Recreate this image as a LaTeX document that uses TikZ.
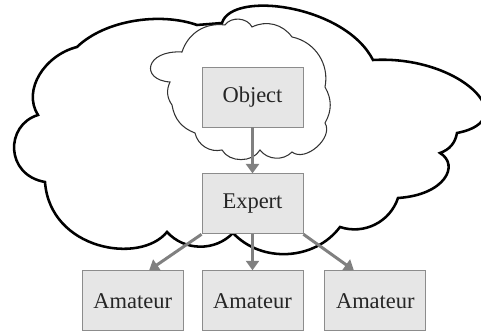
\documentclass[tikz,border=0pt]{standalone}
\usepackage{fontspec}
\setmainfont{Liberation Serif}
\usetikzlibrary{positioning}
\usetikzlibrary{arrows.meta}
\definecolor{boxgray}{HTML}{E6E6E6}
\definecolor{linegray}{HTML}{808080}
\tikzset{
    boxn/.style = {rectangle, draw=black!45, line width=0.5pt, fill=boxgray, minimum width=2.02cm, minimum height=1.2cm, inner sep=0pt, align=center, font=\fontsize{12.8}{15}\selectfont, text=black!85},
    edgea/.style = {-{Triangle[width=0.26cm,length=0.19cm]}, line width=1.7pt, linegray},
    cloudb/.style = {line width=1.45pt, black}, % outer
    clouds/.style = {line width=0.6pt, black!80} % inner
}

\begin{document}
\begin{tikzpicture}[x=0.02cm, y=0.02cm]
  \useasboundingbox (0,0) rectangle (481,331);

  % outer cloud
  \draw[cloudb] (38,216) .. controls (22,241) and (45,276) .. (77,284)
    .. controls (105,311) and (160,319) .. (197,306) -- (222,308)
    .. controls (232,341) and (345,326) .. (373,271)
    .. controls (460,276) and (525,211) .. (457,198)
    to[bend left=30] (440,178)
    .. controls (460,166) and (445,136) .. (398,133)
    to[bend left=45] (340,104)
    to[bend left=50] (233,98)
    to[bend left=47] (167,99)
    .. controls (140,66) and (50,81) .. (45,149)
    .. controls (5,156) and (5,206) .. cycle;

  % inner cloud
  \draw[clouds] (225,306) to[bend left=60] (252,304)
    to[bend left=40] (292,294)
    to[bend left=45] (325,244)
    to[bend left=30] (325,208)
    to[bend left=80] (292,179)
    to[bend left=50] (260,181)
    to[bend left=60] (222,181)
    to[bend left=45] (195,198)
    to[bend left=30] (172,226)
    to[bend left=30] (170,249)
    .. controls (140,251) and (145,281) .. (182,279)
    to[bend left=40] cycle;

  \node[boxn] (object) at (252.5,234) {Object};
  \node[boxn, below=0.92cm of object] (expert) {Expert};
  \node[boxn, below=0.72cm of expert] (am2) {Amateur};
  \node[boxn, left=0.36cm of am2] (am1) {Amateur};
  \node[boxn, right=0.42cm of am2] (am3) {Amateur};

  \draw[edgea] (object.south) -- (expert.north);
  \draw[edgea] (expert.south west) -- ([xshift=0.33cm]am1.north);
  \draw[edgea] (expert.south) -- (am2.north);
  \draw[edgea] (expert.south east) -- ([xshift=-0.43cm]am3.north);

\end{tikzpicture}
\end{document}
